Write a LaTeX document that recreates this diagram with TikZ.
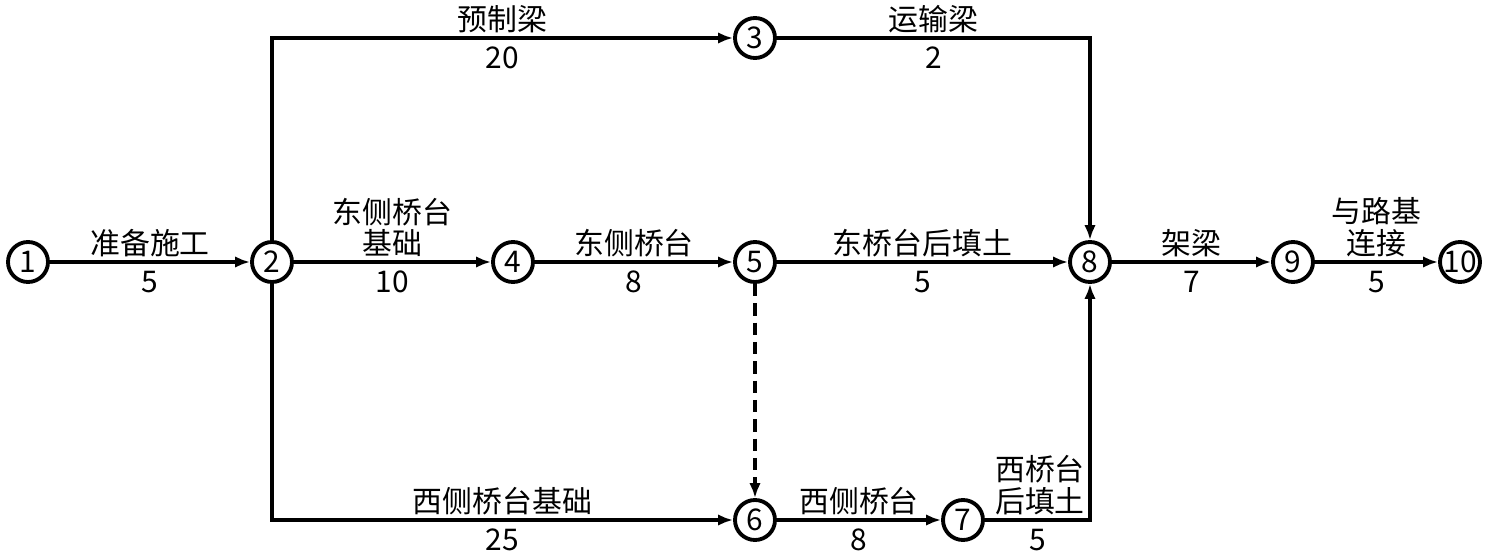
\documentclass[tikz,border=0pt]{standalone}
\usepackage{fontspec}
\setmainfont{Noto Sans CJK SC}
\usetikzlibrary{arrows.meta,positioning,calc}
\definecolor{Ink}{HTML}{000000}
\tikzset{
  evt/.style={draw=Ink,circle,line width=2.2pt,minimum size=.8cm,inner sep=0pt,font=\fontsize{17}{18}\selectfont},
  act/.style={-{Latex[length=3mm,width=2.3mm]},draw=Ink,line width=1.9pt},
  dum/.style={act,dash pattern=on 7pt off 4pt},
  up/.style={above,inner sep=2pt,align=center,font=\fontsize{17}{18}\selectfont},
  dn/.style={below,inner sep=4pt,font=\fontsize{17}{18}\selectfont},
}
\begin{document}
\begin{tikzpicture}
    \useasboundingbox (0,0) rectangle (29.72,11.16);

    \node[evt] (n1) at (0.56,5.92) {1};
    \node[evt] (n2) at (5.44,5.92) {2};
    \node[evt] (n3) at (15.10,10.40) {3};
    \node[evt] (n4) at (10.26,5.92) {4};
    \node[evt] (n5) at (15.10,5.92) {5};
    \node[evt] (n6) at (15.10,0.76) {6};
    \node[evt] (n7) at (19.26,0.76) {7};
    \node[evt] (n8) at (21.80,5.92) {8};
    \node[evt] (n9) at (25.86,5.92) {9};
    \node[evt] (n10) at (29.20,5.92) {10};

    \draw[act] (n1) -- (n2) node[up,midway] {准备施工} node[dn,midway] {5};
    \draw[act] (n2) |- (n3) node[up,pos=.75] {预制梁} node[dn,pos=.75] {20};
    \draw[act] (n3) -| (n8) node[up,pos=.25] {运输梁} node[dn,pos=.25] {2};
    \draw[act] (n2) -- (n4) node[up,midway] {东侧桥台\\基础} node[dn,midway] {10};
    \draw[act] (n4) -- (n5) node[up,midway] {东侧桥台} node[dn,midway] {8};
    \draw[act] (n5) -- (n8) node[up,midway] {东桥台后填土} node[dn,midway] {5};
    \draw[act] (n2) |- (n6) node[up,pos=.75] {西侧桥台基础} node[dn,pos=.75] {25};
    \draw[dum] (n5) -- (n6);
    \draw[act] (n6) -- (n7) node[up,midway] {西侧桥台} node[dn,midway] {8};
    \draw[act] (n7) -| (n8) node[up,pos=.5,anchor=south east] {西桥台\\后填土} node[dn,pos=.25] {5};
    \draw[act] (n8) -- (n9) node[up,midway] {架梁} node[dn,midway] {7};
    \draw[act] (n9) -- (n10) node[up,midway] {与路基\\连接} node[dn,midway] {5};
  \end{tikzpicture}
\end{document}
